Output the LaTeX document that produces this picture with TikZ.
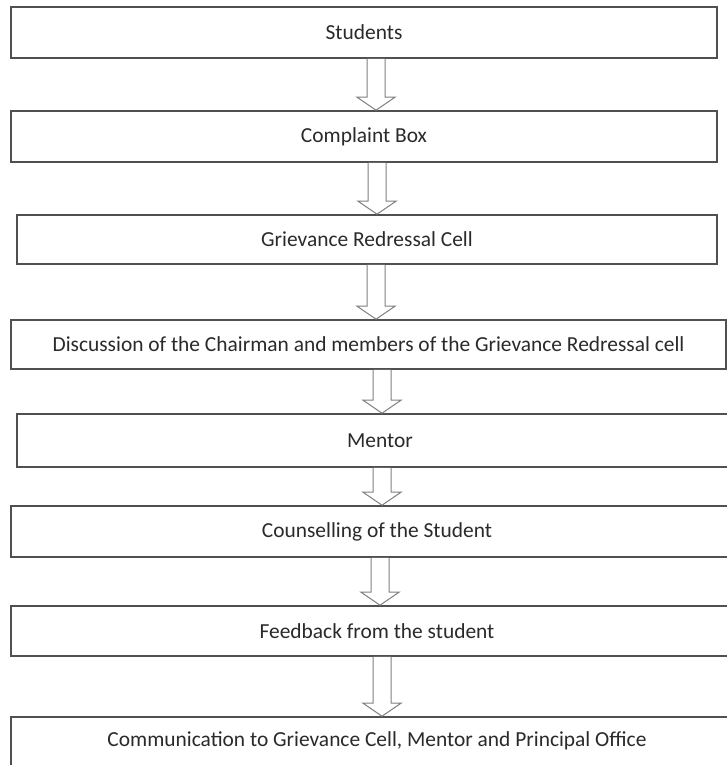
\documentclass[tikz,border=0pt]{standalone}
\usepackage{fontspec}
\setmainfont{Carlito}
\usetikzlibrary{calc}
\definecolor{edge}{HTML}{505050}
\definecolor{txt}{HTML}{2a2a2a}
\tikzset{
  box/.style={draw=edge, line width=1.6bp, rectangle, inner sep=0pt,
    font=\fontsize{21.5}{24}\selectfont, text=txt},
  lbl/.style={font=\fontsize{21.5}{24}\selectfont, text=txt, inner sep=0pt},
  barrowstyle/.style={draw=gray, line width=1bp, fill=white, line join=miter}
}
% #1 from node, #2 to node, #3 x centre (bp)
\newcommand\blockarrow[3]{%
  \draw[barrowstyle] let \p1=(#1.south), \p2=(#2.north) in
    (#3bp-9bp,\y1) -- (#3bp-9bp,\y2+13bp) -- (#3bp-19bp,\y2+13bp) -- (#3bp,\y2)
    -- (#3bp+19bp,\y2+13bp) -- (#3bp+9bp,\y2+13bp) -- (#3bp+9bp,\y1);
}
\begin{document}
\begin{tikzpicture}[x=1bp,y=-1bp]
\useasboundingbox (0,0) rectangle (727,765);
\clip (0,0) rectangle (727,765);
\fill[white] (0,0) rectangle (727,765);
\node[box, minimum width=706bp, minimum height=51bp] (b1) at (364,32.5) {Students};
\node[box, minimum width=706bp, minimum height=51bp] (b2) at (364,136.5) {Complaint Box};
\node[box, minimum width=700bp, minimum height=49bp] (b3) at (367,239.5) {Grievance Redressal Cell};
\node[box, minimum width=715bp, minimum height=49bp] (b4) at (368.5,344.5) {Discussion of the Chairman and members of the Grievance Redressal cell};
\node[box, minimum width=726bp, minimum height=53bp] (b5) at (380,440.5) {Mentor};
\node[box, minimum width=732bp, minimum height=51bp] (b6) at (377,531.5) {Counselling of the Student};
\node[box, minimum width=732bp, minimum height=50bp] (b7) at (377,631) {Feedback from the student};
\node[box, minimum width=732bp, minimum height=80bp] (b8) at (377,757) {};
\node[lbl] (t8) at (377,741) {Communication to Grievance Cell, Mentor and Principal Office};
\blockarrow{b1}{b2}{376}
\blockarrow{b2}{b3}{377}
\blockarrow{b3}{b4}{376}
\blockarrow{b4}{b5}{382}
\blockarrow{b5}{b6}{382}
\blockarrow{b6}{b7}{380}
\blockarrow{b7}{b8}{382}
\end{tikzpicture}
\end{document}
